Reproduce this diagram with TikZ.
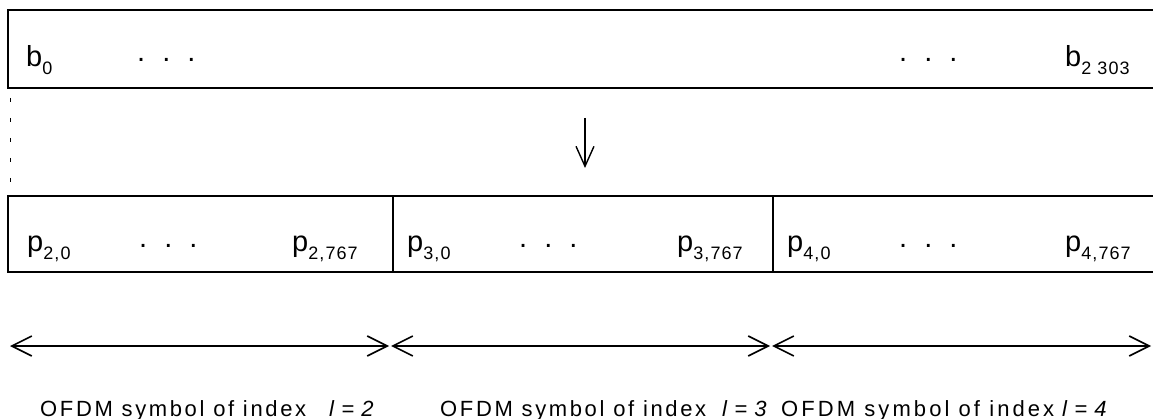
\documentclass[tikz,border=0pt]{standalone}
\usepackage{fontspec}
\setmainfont{Liberation Sans}
\usetikzlibrary{arrows.meta}
\newcommand{\lowidx}[1]{\raisebox{-8pt}{\fontsize{18}{18}\selectfont\addfontfeature{LetterSpace=6}#1}}
\newcommand{\threedots}{.\hspace{17pt}.\hspace{17pt}.}
\tikzset{
  sym/.style={font=\fontsize{29}{30}\selectfont, inner sep=0pt, anchor=base west},
  caption/.style={font=\fontsize{22}{23}\selectfont\addfontfeature{LetterSpace=12}, inner sep=0pt, anchor=base west},
  widecaption/.style={caption, font=\fontsize{22}{23}\selectfont\addfontfeature{LetterSpace=14}},
  idx/.style={font=\fontsize{22}{23}\selectfont\itshape\addfontfeature{LetterSpace=5}, inner sep=0pt, anchor=base west},
  span/.style={{Straight Barb[length=20pt,width=20pt]}-{Straight Barb[length=20pt,width=20pt]}, line width=1.6pt}
}
\begin{document}
\begin{tikzpicture}[x=1pt,y=-1pt]
\useasboundingbox (0,0) rectangle (1153,419);
% bit row
\draw[line width=2pt] (1160,10) -- (8,10) -- (8,88) -- (1160,88);
\node[sym] (b0) at (26,67) {b\lowidx{0}};
\node[sym] (bdotsa) at (137,62) {\threedots};
\node[sym] (bdotsb) at (899,62) {\threedots};
\node[sym] (bend) at (1065,67) {b\lowidx{2 303}};
\coordinate (dashtop) at (10,98);
\coordinate (dashbot) at (10,184);
\draw[line width=0.8pt, dash pattern=on 4pt off 16pt] (dashtop) -- (dashbot);
\coordinate (maptop) at (585,118);
\coordinate (mapbot) at (585,168);
\draw[line width=1.4pt, -{Straight Barb[length=20pt,width=18pt]}] (maptop) -- (mapbot);
% cell row
\draw[line width=2pt] (1160,196) -- (8,196) -- (8,272) -- (1160,272);
\draw[line width=1.5pt] (393,196) -- (393,272);
\draw[line width=1.5pt] (773,196) -- (773,272);
\node[sym] (p20) at (27,252) {p\lowidx{2,0}};
\node[sym] (p2dots) at (139,248) {\threedots};
\node[sym] (p2end) at (292,252) {p\lowidx{2,767}};
\node[sym] (p30) at (407,252) {p\lowidx{3,0}};
\node[sym] (p3dots) at (519,248) {\threedots};
\node[sym] (p3end) at (677,252) {p\lowidx{3,767}};
\node[sym] (p40) at (787,252) {p\lowidx{4,0}};
\node[sym] (p4dots) at (899,248) {\threedots};
\node[sym] (p4end) at (1065,252) {p\lowidx{4,767}};
% symbol spans
\coordinate (s0) at (10,346);
\coordinate (s1a) at (389,346);
\coordinate (s1b) at (391,346);
\coordinate (s2a) at (770,346);
\coordinate (s2b) at (772,346);
\coordinate (s3) at (1151,346);
\draw[span] (s0) -- (s1a);
\draw[span] (s1b) -- (s2a);
\draw[span] (s2b) -- (s3);
\node[caption] (ofdm2) at (40,416) {OFDM symbol of index};
\node[idx] (l2) at (329,416) {l = 2};
\node[caption] (ofdm3) at (440,416) {OFDM symbol of index};
\node[idx] (l3) at (722,416) {l = 3};
\node[widecaption] (ofdm4) at (781,416) {OFDM symbol of index};
\node[idx] (l4) at (1062,416) {l = 4};
\end{tikzpicture}
\end{document}
